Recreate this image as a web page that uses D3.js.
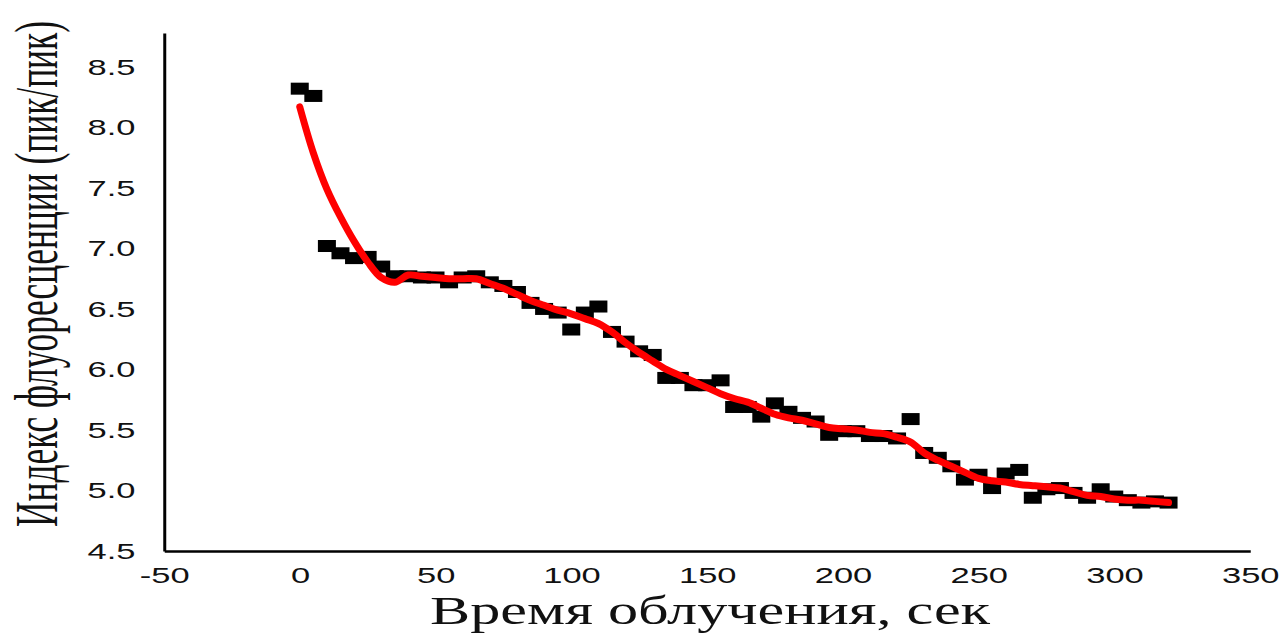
<!DOCTYPE html>
<html>
<head>
<meta charset="utf-8">
<script src="https://cdn.jsdelivr.net/npm/d3@7"></script>
<style>
  html, body { margin: 0; padding: 0; background: #fff; overflow: hidden; }
  svg { display: block; }
</style>
</head>
<body>
<svg id="chart"></svg>
<script>
// Irradiation time, s
const times = [0, 5, 10, 15, 20, 25, 30, 35, 40, 45, 50, 55, 60, 65, 70, 75, 80, 85, 90, 95,
  100, 105, 110, 115, 120, 125, 130, 135, 140, 145, 150, 155, 160, 165, 170, 175, 180, 185, 190, 195,
  200, 205, 210, 215, 220, 225, 230, 235, 240, 245, 250, 255, 260, 265, 270, 275, 280, 285, 290, 295,
  300, 305, 310, 315, 320];

// Measured fluorescence index (peak/peak)
const measured = [8.32, 8.26, 7.02, 6.96, 6.92, 6.93, 6.85, 6.77, 6.77, 6.76, 6.76, 6.72, 6.76, 6.77, 6.72, 6.69, 6.64, 6.55, 6.50, 6.47,
  6.33, 6.47, 6.52, 6.31, 6.23, 6.15, 6.12, 5.93, 5.93, 5.87, 5.87, 5.91, 5.69, 5.69, 5.61, 5.72, 5.65, 5.60, 5.57, 5.46,
  5.49, 5.49, 5.45, 5.45, 5.43, 5.59, 5.31, 5.27, 5.20, 5.09, 5.13, 5.02, 5.14, 5.17, 4.94, 5.01, 5.02, 4.98, 4.94, 5.01,
  4.95, 4.92, 4.90, 4.91, 4.90];

// Smoothed trend
const smoothed = [8.17, 7.79, 7.49, 7.26, 7.06, 6.89, 6.76, 6.72, 6.78, 6.77, 6.76, 6.75, 6.75, 6.75, 6.71, 6.67, 6.62, 6.57, 6.53, 6.49,
  6.46, 6.42, 6.38, 6.31, 6.22, 6.14, 6.07, 6.00, 5.95, 5.90, 5.85, 5.80, 5.76, 5.73, 5.68, 5.63, 5.60, 5.58, 5.55, 5.52,
  5.51, 5.50, 5.48, 5.47, 5.44, 5.40, 5.31, 5.25, 5.20, 5.15, 5.10, 5.08, 5.07, 5.05, 5.04, 5.03, 5.02, 4.99, 4.96, 4.95,
  4.93, 4.92, 4.92, 4.91, 4.90];

const xTicks = [-50, 0, 50, 100, 150, 200, 250, 300, 350];
const yTicks = [4.5, 5.0, 5.5, 6.0, 6.5, 7.0, 7.5, 8.0, 8.5];

const xTitle = "Время облучения, сек";
const yTitle = "Индекс флуоресценции (пик/пик)";

// The drawing is laid out in a coordinate space that is stretched
// horizontally by SX to fill the wide frame.
const W = 1286, H = 634, SX = 1.5;
const svg = d3.select("#chart")
  .attr("width", W).attr("height", H)
  .attr("viewBox", `0 0 ${W / SX} ${H}`)
  .attr("preserveAspectRatio", "none");

const x = d3.scaleLinear().domain([-50, 350]).range([164 / SX, 1250 / SX]);
const y = d3.scaleLinear().domain([4.5, 8.78]).range([551, 33]);

const tickFont = "'Liberation Sans', Arial, sans-serif";
const titleFont = "'Liberation Serif', 'Times New Roman', serif";

// X axis (plain hyphen for negative values)
const gx = svg.append("g")
  .attr("transform", `translate(0,${y(4.5)})`)
  .call(d3.axisBottom(x).tickValues(xTicks).tickSize(0).tickSizeOuter(0).tickPadding(16)
    .tickFormat(d => String(d)));
gx.select(".domain").attr("stroke", "#000").attr("stroke-width", 2.5)
  .attr("vector-effect", "non-scaling-stroke");
gx.selectAll("text").attr("font-family", tickFont).attr("font-size", 23).attr("fill", "#111");

// Y axis
const gy = svg.append("g")
  .attr("transform", `translate(${x(-50)},0)`)
  .call(d3.axisLeft(y).tickValues(yTicks).tickSize(0).tickSizeOuter(0).tickPadding(19)
    .tickFormat(d3.format(".1f")));
gy.select(".domain").attr("stroke", "#000").attr("stroke-width", 3)
  .attr("vector-effect", "non-scaling-stroke");
gy.selectAll("text").attr("font-family", tickFont).attr("font-size", 23).attr("fill", "#111");

// Measured points (square markers)
const points = times.map((t, i) => ({ t, v: measured[i] }));
const ms = 12;
svg.append("g").selectAll("rect")
  .data(points)
  .join("rect")
  .attr("x", d => x(d.t) - ms / 2)
  .attr("y", d => y(d.v) - ms / 2)
  .attr("width", ms)
  .attr("height", ms)
  .attr("fill", "#000");

// Smoothed trend line
const trend = times.map((t, i) => ({ t, v: smoothed[i] }));
svg.append("path")
  .datum(trend)
  .attr("fill", "none")
  .attr("stroke", "#ff0000")
  .attr("stroke-width", 7)
  .attr("stroke-linejoin", "round")
  .attr("stroke-linecap", "round")
  .attr("vector-effect", "non-scaling-stroke")
  .attr("d", d3.line().x(d => x(d.t)).y(d => y(d.v)).curve(d3.curveCatmullRom.alpha(0.5)));

// Axis titles, each fitted to a target length along its reading direction
const xt = svg.append("text")
  .attr("text-anchor", "middle")
  .attr("font-family", titleFont)
  .attr("font-size", 40)
  .attr("fill", "#111")
  .text(xTitle);

const yt = svg.append("text")
  .attr("text-anchor", "middle")
  .attr("font-family", titleFont)
  .attr("font-size", 41)
  .attr("fill", "#111")
  .text(yTitle);

function placeTitles() {
  const kx = (560 / SX) / xt.node().getBBox().width;
  xt.attr("transform", `translate(${710 / SX},624) scale(${kx},1)`);
  const ky = 506 / yt.node().getBBox().width;
  yt.attr("transform", `translate(${57 / SX},274) rotate(-90) scale(${ky},1)`);
}
placeTitles();
if (document.fonts && document.fonts.ready) {
  document.fonts.ready.then(placeTitles);
}
</script>
</body>
</html>
